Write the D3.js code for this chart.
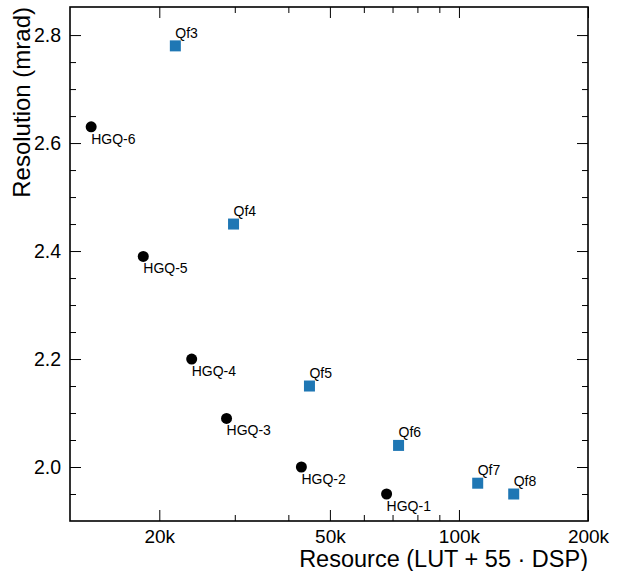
<!DOCTYPE html>
<html>
<head>
<meta charset="utf-8">
<script src="https://cdn.jsdelivr.net/npm/d3@7"></script>
<style>
  body { margin: 0; background: #fff; }
  svg { font-family: "Liberation Sans", Arial, sans-serif; }
  .frame { fill: none; stroke: #000; stroke-width: 1.6; }
  .tick line { stroke: #000; stroke-width: 1; }
  .domain { display: none; }
</style>
</head>
<body>
<div id="chart"></div>
<script>
// HGQ points
const hgqNames = ["HGQ-1", "HGQ-2", "HGQ-3", "HGQ-4", "HGQ-5", "HGQ-6"];
const hgqResource = [67800, 42900, 28700, 23800, 18350, 13870];
const hgqResolution = [1.95, 2.00, 2.09, 2.20, 2.39, 2.63];

// Qf points
const qfNames = ["Qf3", "Qf4", "Qf5", "Qf6", "Qf7", "Qf8"];
const qfResource = [21800, 29800, 44800, 72300, 110600, 134200];
const qfResolution = [2.78, 2.45, 2.15, 2.04, 1.97, 1.95];

// axis ticks
const xMajor = [20000, 50000, 100000, 200000];
const xMajorLabels = ["20k", "50k", "100k", "200k"];
const xMinor = [30000, 40000, 60000, 70000, 80000, 90000];
const yMajor = [2.0, 2.2, 2.4, 2.6, 2.8];
const yMinor = [1.95, 2.05, 2.1, 2.15, 2.25, 2.3, 2.35, 2.45, 2.5, 2.55, 2.65, 2.7, 2.75];

const W = 623, H = 571;
const margin = {top: 7, right: 35, bottom: 50, left: 70};
const width = W - margin.left - margin.right;
const height = H - margin.top - margin.bottom;

const svg = d3.select("#chart").append("svg")
  .attr("width", W)
  .attr("height", H);

const g = svg.append("g")
  .attr("transform", "translate(" + margin.left + "," + margin.top + ")");

const x = d3.scaleLog()
  .domain([12380, 200000])
  .range([0, width]);

const y = d3.scaleLinear()
  .domain([1.9, 2.852])
  .range([height, 0]);

const majorLen = 11, minorLen = 6;

//bottom axis with labels
g.append("g")
  .attr("transform", "translate(0," + height + ")")
  .call(d3.axisBottom(x).tickValues(xMajor).tickSize(-majorLen).tickPadding(9)
    .tickFormat((d, i) => xMajorLabels[i]))
  .call(s => s.selectAll("text").style("font-size", "19px").attr("fill", "#000"));

g.append("g")
  .attr("transform", "translate(0," + height + ")")
  .call(d3.axisBottom(x).tickValues(xMinor).tickSize(-minorLen).tickFormat(""));

//top axis, ticks only
g.append("g")
  .call(d3.axisTop(x).tickValues(xMajor).tickSize(-majorLen).tickFormat(""));
g.append("g")
  .call(d3.axisTop(x).tickValues(xMinor).tickSize(-minorLen).tickFormat(""));

//left axis with labels
g.append("g")
  .call(d3.axisLeft(y).tickValues(yMajor).tickSize(-majorLen).tickPadding(9)
    .tickFormat(d3.format(".1f")))
  .call(s => s.selectAll("text").style("font-size", "19.5px").attr("fill", "#000"));
g.append("g")
  .call(d3.axisLeft(y).tickValues(yMinor).tickSize(-minorLen).tickFormat(""));

//right axis, ticks only
g.append("g")
  .attr("transform", "translate(" + width + ",0)")
  .call(d3.axisRight(y).tickValues(yMajor).tickSize(-majorLen).tickFormat(""));
g.append("g")
  .attr("transform", "translate(" + width + ",0)")
  .call(d3.axisRight(y).tickValues(yMinor).tickSize(-minorLen).tickFormat(""));

g.append("rect")
  .attr("class", "frame")
  .attr("width", width)
  .attr("height", height);

const hgq = hgqNames.map((n, i) => ({name: n, x: hgqResource[i], y: hgqResolution[i]}));
const qf = qfNames.map((n, i) => ({name: n, x: qfResource[i], y: qfResolution[i]}));

// HGQ circles
g.selectAll(".hgq")
  .data(hgq)
  .enter().append("circle")
  .attr("cx", d => x(d.x))
  .attr("cy", d => y(d.y))
  .attr("r", 5.5)
  .attr("fill", "#000");

g.selectAll(".hgqLabel")
  .data(hgq)
  .enter().append("text")
  .attr("x", d => x(d.x))
  .attr("y", d => y(d.y) + 17)
  .style("font-size", "14px")
  .text(d => d.name);

// Qf squares
const sq = 11;
g.selectAll(".qf")
  .data(qf)
  .enter().append("rect")
  .attr("x", d => x(d.x) - sq / 2)
  .attr("y", d => y(d.y) - sq / 2)
  .attr("width", sq)
  .attr("height", sq)
  .attr("fill", "#1f77b4");

g.selectAll(".qfLabel")
  .data(qf)
  .enter().append("text")
  .attr("x", d => x(d.x))
  .attr("y", d => y(d.y) - 8)
  .style("font-size", "14px")
  .text(d => d.name);

//axis titles
svg.append("text")
  .attr("x", margin.left + width)
  .attr("y", H - 4)
  .attr("text-anchor", "end")
  .style("font-size", "23.5px")
  .text("Resource (LUT + 55 \u00b7 DSP)");

svg.append("text")
  .attr("transform", "translate(30," + margin.top + ") rotate(-90)")
  .attr("text-anchor", "end")
  .style("font-size", "24px")
  .text("Resolution (mrad)");
</script>
</body>
</html>
